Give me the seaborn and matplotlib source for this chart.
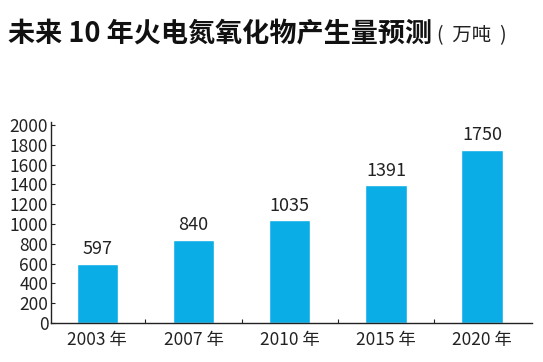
import matplotlib
matplotlib.use("Agg")
import matplotlib.pyplot as plt
import seaborn as sns
import pandas as pd
from matplotlib.ticker import FixedLocator

sns.set_theme(style="white")
plt.rcParams["font.family"] = ["Noto Sans CJK SC", "DejaVu Sans"]

years = ["2003 年", "2007 年", "2010 年", "2015 年", "2020 年"]
values = [597, 840, 1035, 1391, 1750]
yticks = list(range(0, 2001, 200))

df = pd.DataFrame({"year": years, "value": values})

fig = plt.figure(figsize=[5.43, 3.62], dpi=100)
ax = fig.add_axes([0.094, 0.108, 0.886, 0.555])

sns.barplot(df, x="year", y="value", color="#0AADE6", width=0.43, saturation=1, ax=ax)
ax.bar_label(ax.containers[0], fontsize=13, padding=4, color="#222222")

ax.set(xlabel="", ylabel="", ylim=[0, 2030], xlim=[-0.48, 4.52])
ax.set_yticks(yticks)
ax.set_yticklabels([str(t) for t in yticks])
ax.xaxis.set_minor_locator(FixedLocator([0.5, 1.5, 2.5, 3.5]))
ax.tick_params(axis="y", direction="in", length=3, width=0.8, labelsize=12.5,
               pad=2, left=True, colors="#222222")
ax.tick_params(axis="x", which="major", length=0, labelsize=12.5, pad=6, colors="#222222")
ax.tick_params(axis="x", which="minor", direction="in", length=3, width=0.8,
               bottom=True, color="#222222")

sns.despine(ax=ax)
for side in ["left", "bottom"]:
    ax.spines[side].set_color("#222222")
    ax.spines[side].set_linewidth(1.0)

fig.text(0.015, 0.885, "未来 10 年火电氮氧化物产生量预测", fontsize=19.5, fontweight="bold",
         color="#111111")
fig.text(0.805, 0.887, "(  万吨  )", fontsize=14, color="#222222")

fig.savefig("out.png", dpi=100)
